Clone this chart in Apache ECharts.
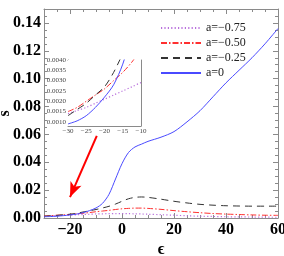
<!DOCTYPE html>
<html><head><meta charset="utf-8">
<script src="https://cdn.jsdelivr.net/npm/echarts@6/dist/echarts.min.js"></script>
<style>html,body{margin:0;padding:0;background:#fff}#c{width:284px;height:256px}</style>
</head><body><div id="c"></div>
<script>
const eps = [-30,-27.5,-25,-22.5,-20,-17.5,-15,-12.5,-10,-7.5,-5,-2.5,0,2.5,5,7.5,10,15,20,25,30,35,40,45,50,55,60];
const sA0   = [0.0009,0.00105,0.0013,0.0017,0.0022,0.0028,0.0038,0.0053,0.0072,0.0105,0.017,0.028,0.039,0.047,0.051,0.053,0.055,0.058,0.062,0.069,0.077,0.087,0.097,0.106,0.115,0.125,0.136];
const sA025 = [0.0013,0.0016,0.0019,0.0023,0.0027,0.0034,0.0043,0.0052,0.0061,0.0072,0.0084,0.0100,0.0120,0.0138,0.0148,0.0151,0.0148,0.0135,0.0120,0.0108,0.0098,0.0092,0.0088,0.0086,0.0085,0.0085,0.0085];
const sA050 = [0.0015,0.0017,0.0020,0.0023,0.0026,0.0030,0.0034,0.0039,0.0045,0.0050,0.0055,0.0061,0.0066,0.0069,0.0071,0.0071,0.0069,0.0062,0.0053,0.0045,0.0038,0.0032,0.0028,0.0025,0.0022,0.0020,0.0019];
const sA075 = [0.0014,0.00155,0.0017,0.0019,0.0021,0.0023,0.0025,0.0027,0.0029,0.0030,0.0031,0.0031,0.0031,0.0031,0.0030,0.0029,0.0027,0.0024,0.0020,0.0016,0.0013,0.0011,0.0009,0.0008,0.0007,0.0006,0.0005];
const names = ['a=\u22120.75','a=\u22120.50','a=\u22120.25','a=0'];
const arrowPts = [[-9.7, 0.059], [-20, 0.015]];

const styles = [
  {color:'#b86fdc', type:[1.2,2.2], width:1.2},
  {color:'#ff3030', type:[6,2,1.5,2], width:1},
  {color:'#333333', type:[7,5], width:1},
  {color:'#4a4aff', type:'solid', width:1}
];
const dataSets = [sA075, sA050, sA025, sA0];
const pair = arr => eps.map((x,i)=>[x,arr[i]]);
const minusFmt = v => v < 0 ? '\u2212' + Math.abs(v) : String(v);
const frame = {show:true, onZero:false, lineStyle:{color:'#8a8a8a', width:1}};
const serif = "'Liberation Serif', 'Times New Roman', serif";
const tick = len => ({inside:true, length:len, lineStyle:{color:'#8a8a8a'}});

const chart = echarts.init(document.getElementById('c'), null, {renderer:'canvas'});
const series = [];
dataSets.forEach((d,i)=>{
  series.push({type:'line', name:names[i], xAxisIndex:0, yAxisIndex:0, data:pair(d), smooth:0.3,
    symbol:'none', lineStyle:styles[i], itemStyle:{color:styles[i].color}, z:3, emphasis:{disabled:true},
    markLine: i===1 ? {silent:true, symbol:['none','arrow'], symbolSize:[9,15], label:{show:false},
      lineStyle:{color:'#ff0000', width:2, type:'solid'},
      data:[[{coord:arrowPts[0]},{coord:arrowPts[1]}]]} : undefined});
});
dataSets.forEach((d,i)=>{
  series.push({type:'line', name:names[i], xAxisIndex:2, yAxisIndex:2, data:pair(d), smooth:0.3,
    symbol:'none', lineStyle:styles[i], itemStyle:{color:styles[i].color},
    clip:true, z:10, emphasis:{disabled:true}});
});

chart.setOption({
  animation:false,
  legend:{orient:'vertical', left:155, top:17, itemWidth:40, itemHeight:14, itemGap:3,
    data:names, itemStyle:{opacity:0}, textStyle:{fontFamily:serif, fontSize:12, color:'#222'}, selectedMode:false},
  grid:[
    {left:44, top:9, right:6, bottom:38, outerBoundsMode:'none', containLabel:false},
    {left:44, top:9, right:6, bottom:38, outerBoundsMode:'none', containLabel:false},
    {left:68, top:60, width:73, height:66, show:true, backgroundColor:'#fff', borderWidth:0, z:5, outerBoundsMode:'none', containLabel:false}
  ],
  xAxis:[
    {type:'value', gridIndex:0, min:-30, max:60, splitNumber:5, position:'bottom',
     name:'\u03f5', nameLocation:'middle', nameGap:24, nameMoveOverlap:false, nameTextStyle:{fontFamily:serif, fontWeight:'bold', fontSize:16, color:'#000'},
     axisLine:frame, axisTick:tick(5),
     minorTick:{show:true, splitNumber:4, length:3, lineStyle:{color:'#8a8a8a'}},
     axisLabel:{showMinLabel:false, formatter:minusFmt, fontFamily:serif, fontWeight:'bold', fontSize:16, color:'#000', margin:4},
     splitLine:{show:false}},
    {type:'value', gridIndex:1, min:-30, max:60, splitNumber:5, position:'top',
     axisLine:frame, axisTick:tick(5),
     minorTick:{show:true, splitNumber:4, length:3, lineStyle:{color:'#8a8a8a'}},
     axisLabel:{show:false}, splitLine:{show:false}},
    {type:'value', gridIndex:2, min:-30, max:-10, interval:5, position:'bottom',
     axisLine:frame, axisTick:tick(3),
     minorTick:{show:true, splitNumber:5, length:1.5, lineStyle:{color:'#8a8a8a'}},
     axisLabel:{formatter:minusFmt, fontFamily:serif, fontSize:7, color:'#444', margin:2},
     splitLine:{show:false}},
    {type:'value', gridIndex:2, min:-30, max:-10, interval:5, position:'top',
     axisLine:frame, axisTick:tick(3),
     axisLabel:{show:false}, splitLine:{show:false}}
  ],
  yAxis:[
    {type:'value', gridIndex:0, min:0, max:0.15, interval:0.02, position:'left',
     name:'s', nameLocation:'middle', nameGap:31, nameRotate:90, nameMoveOverlap:false, nameTextStyle:{fontFamily:serif, fontWeight:'bold', fontSize:16, color:'#000'},
     axisLine:frame, axisTick:tick(5),
     minorTick:{show:true, splitNumber:4, length:3, lineStyle:{color:'#8a8a8a'}},
     axisLabel:{showMaxLabel:false, formatter:v=>v.toFixed(2), fontFamily:serif, fontWeight:'bold', fontSize:16, color:'#000', margin:3},
     splitLine:{show:false}},
    {type:'value', gridIndex:1, min:0, max:0.15, interval:0.02, position:'right',
     axisLine:frame, axisTick:tick(5),
     minorTick:{show:true, splitNumber:4, length:3, lineStyle:{color:'#8a8a8a'}},
     axisLabel:{show:false}, splitLine:{show:false}},
    {type:'value', gridIndex:2, min:0.0008, max:0.004, splitNumber:6, position:'left',
     axisLine:frame, axisTick:tick(3),
     minorTick:{show:true, splitNumber:5, length:1.5, lineStyle:{color:'#8a8a8a'}},
     axisLabel:{showMinLabel:false, formatter:v=>v.toFixed(4), fontFamily:serif, fontSize:7, color:'#444', margin:2},
     splitLine:{show:false}},
    {type:'value', gridIndex:2, min:0.0008, max:0.004, splitNumber:6, position:'right',
     axisLine:frame, axisTick:tick(3),
     axisLabel:{show:false}, splitLine:{show:false}}
  ],
  series: series
});
</script></body></html>
